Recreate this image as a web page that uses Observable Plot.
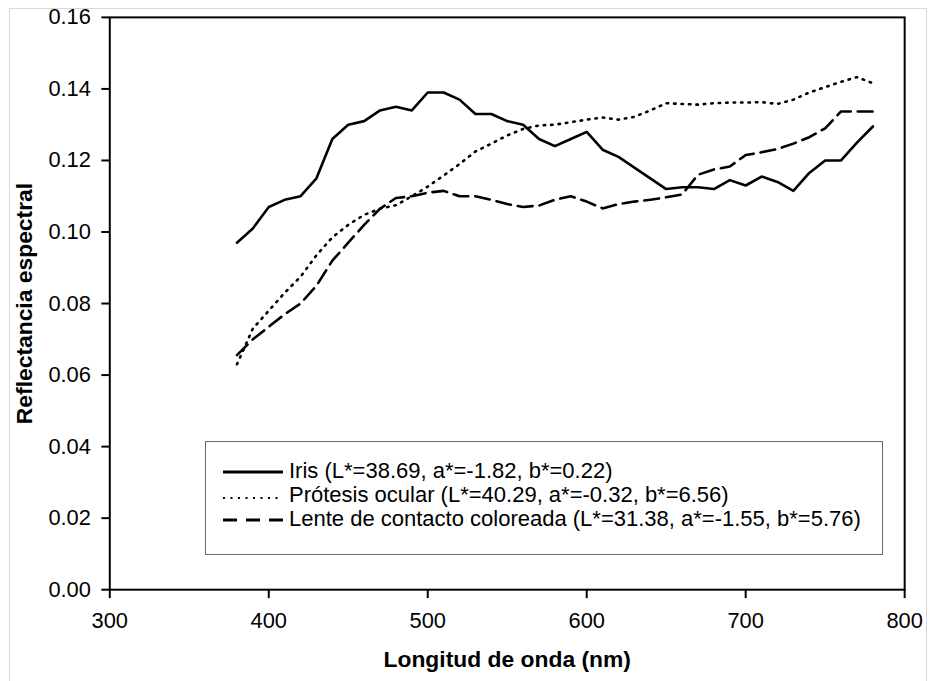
<!DOCTYPE html>
<html><head><meta charset="utf-8">
<script src="https://cdn.jsdelivr.net/npm/d3@7"></script>
<script src="https://cdn.jsdelivr.net/npm/@observablehq/plot@0.6"></script>
<style>
html,body{margin:0;padding:0;background:#fff;}
#wrap{position:relative;width:928px;height:681px;overflow:hidden;font-family:"Liberation Sans",Arial,sans-serif;}
#edge{position:absolute;left:9px;top:8px;width:918px;height:700px;border:1px solid #d8d8d8;box-sizing:border-box;pointer-events:none;}
#legend{position:absolute;left:205px;top:441px;width:678px;height:114px;border:1.5px solid #6a6a6a;box-sizing:border-box;background:#fff;}
.row{position:absolute;left:16px;height:24px;display:flex;align-items:center;font-size:22px;color:#000;white-space:nowrap;}
.row svg{margin-right:5px;}
</style></head><body>
<div id="wrap"><div id="edge"></div></div>
<script>
// Wavelength (nm)
const wavelengths = [380,390,400,410,420,430,440,450,460,470,480,490,500,510,520,530,540,550,560,570,580,590,600,610,620,630,640,650,660,670,680,690,700,710,720,730,740,750,760,770,780];
// Iris
const iris = [0.097,0.101,0.107,0.109,0.110,0.115,0.126,0.130,0.131,0.134,0.135,0.134,0.139,0.139,0.137,0.133,0.133,0.131,0.130,0.126,0.124,0.126,0.128,0.123,0.121,0.118,0.115,0.112,0.1125,0.1125,0.112,0.1145,0.113,0.1155,0.114,0.1115,0.1165,0.120,0.120,0.125,0.1295];
// Prótesis ocular
const protesis = [0.063,0.073,0.078,0.083,0.0875,0.0935,0.0985,0.102,0.1048,0.1065,0.1075,0.110,0.1127,0.1158,0.119,0.1225,0.1247,0.127,0.1288,0.1298,0.130,0.1307,0.1314,0.132,0.1314,0.1322,0.134,0.136,0.1358,0.1356,0.136,0.1362,0.1362,0.1363,0.1358,0.137,0.139,0.1405,0.142,0.1433,0.1416];
// Lente de contacto coloreada
const lente = [0.0656,0.070,0.0735,0.077,0.080,0.085,0.092,0.097,0.102,0.1065,0.1095,0.110,0.111,0.1115,0.110,0.110,0.109,0.1078,0.107,0.1074,0.109,0.110,0.1085,0.1066,0.1078,0.1085,0.109,0.1097,0.1105,0.116,0.1175,0.1183,0.1215,0.1223,0.1232,0.1247,0.1265,0.129,0.1337,0.1337,0.1337];

const seriesNames = ["Iris (L*=38.69, a*=-1.82, b*=0.22)","Prótesis ocular (L*=40.29, a*=-0.32, b*=6.56)","Lente de contacto coloreada (L*=31.38, a*=-1.55, b*=5.76)"];
const dashes = ["none","1.5,6","15,7"];
const xTicks = [300,400,500,600,700,800];
const yTicks = [0,0.02,0.04,0.06,0.08,0.10,0.12,0.14,0.16];
const xTitle = "Longitud de onda (nm)";
const yTitle = "Reflectancia espectral";

const seriesValues = [iris, protesis, lente];
const rows = [];
seriesValues.forEach((vals, s) => vals.forEach((v, i) => rows.push({w: wavelengths[i], v, s})));

const font = "Liberation Sans, Arial, sans-serif";
const chart = Plot.plot({
  width: 934, height: 681,
  marginLeft: 110, marginRight: 24, marginTop: 17, marginBottom: 88,
  style: {fontFamily: font, fontSize: "22px", color: "#000", background: "transparent"},
  x: {domain: [300, 800]},
  y: {domain: [0, 0.16]},
  marks: [
    Plot.frame({stroke: "#000", strokeWidth: 2}),
    Plot.axisX({ticks: xTicks, tickSize: 9, tickPadding: 14, tickFormat: d => String(d), label: null, strokeWidth: 2, fontSize: 22}),
    Plot.axisY({ticks: yTicks, tickSize: 8, tickPadding: 11, tickFormat: d3.format(".2f"), label: null, strokeWidth: 2, fontSize: 22}),
    ...seriesValues.map((vals, s) => Plot.line(rows.filter(r => r.s === s), {
      x: "w", y: "v", stroke: "#000", strokeWidth: 2.6,
      strokeDasharray: dashes[s], strokeLinecap: "round", strokeLinejoin: "round"
    })),
    Plot.text([xTitle], {frameAnchor: "bottom", dy: 70, lineAnchor: "middle", textAnchor: "middle", fontWeight: "bold", fontSize: 23, text: d => d}),
    Plot.text([yTitle], {frameAnchor: "left", dx: -86, rotate: -90, lineAnchor: "middle", textAnchor: "middle", fontWeight: "bold", fontSize: 23, text: d => d})
  ]
});
chart.style.position = "absolute";
chart.style.left = "0px";
chart.style.top = "0px";
const wrap = document.getElementById("wrap");
wrap.appendChild(chart);

// Legend
const legend = document.createElement("div");
legend.id = "legend";
seriesNames.forEach((name, s) => {
  const row = document.createElement("div");
  row.className = "row";
  row.style.top = (17 + s * 24) + "px";
  const ns = "http://www.w3.org/2000/svg";
  const sv = document.createElementNS(ns, "svg");
  sv.setAttribute("width", 62); sv.setAttribute("height", 12);
  const ln = document.createElementNS(ns, "line");
  ln.setAttribute("x1", 1); ln.setAttribute("x2", 61);
  const yy = s === 1 ? 9 : 7;
  ln.setAttribute("y1", yy); ln.setAttribute("y2", yy);
  ln.setAttribute("stroke", "#000");
  ln.setAttribute("stroke-width", s === 1 ? 2 : 3);
  if (s === 1) ln.setAttribute("stroke-dasharray", "2,5.5");
  if (s === 2) ln.setAttribute("stroke-dasharray", "14,9");
  sv.appendChild(ln);
  row.appendChild(sv);
  const t = document.createElement("span");
  t.textContent = name;
  row.appendChild(t);
  legend.appendChild(row);
});
wrap.appendChild(legend);
</script>
</body></html>
